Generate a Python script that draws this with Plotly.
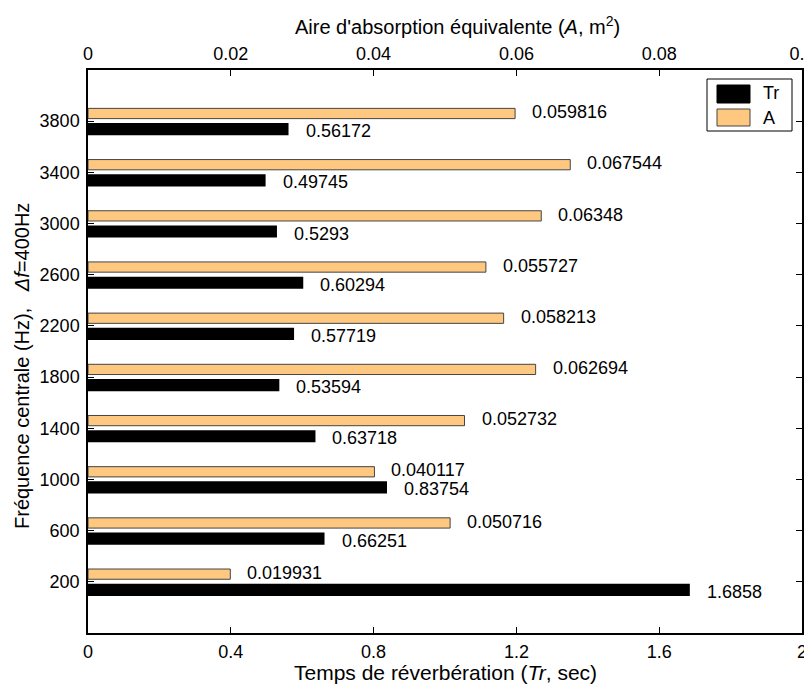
import plotly.graph_objects as go

freqs = [200, 600, 1000, 1400, 1800, 2200, 2600, 3000, 3400, 3800]
tr_values = [1.6858, 0.66251, 0.83754, 0.63718, 0.53594, 0.57719, 0.60294, 0.5293, 0.49745, 0.56172]
a_values = [0.019931, 0.050716, 0.040117, 0.052732, 0.062694, 0.058213, 0.055727, 0.06348, 0.067544, 0.059816]
tr_labels = ["1.6858", "0.66251", "0.83754", "0.63718", "0.53594", "0.57719", "0.60294", "0.5293", "0.49745", "0.56172"]
a_labels = ["0.019931", "0.050716", "0.040117", "0.052732", "0.062694", "0.058213", "0.055727", "0.06348", "0.067544", "0.059816"]
tr_ticks = [0, 0.4, 0.8, 1.2, 1.6, 2]
tr_ticktext = ["0", "0.4", "0.8", "1.2", "1.6", "2"]
a_ticks = [0, 0.02, 0.04, 0.06, 0.08, 0.1]
a_ticktext = ["0", "0.02", "0.04", "0.06", "0.08", "0.1"]
series_names = ["Tr", "A"]
x_title = "Temps de réverbération (<i>Tr</i>, sec)"
x2_title = "Aire d'absorption équivalente (<i>A</i>, m<sup>2</sup>)"
y_title = "Fréquence centrale (Hz),\u00a0\u00a0\u00a0<i>Δf</i>=400Hz"

FONT = "Liberation Sans, Arial, sans-serif"
ORANGE = "#FFC880"
TICK_SIZE = 18
TITLE_SIZE = 20

# the page body adds an 8px margin: the figure is drawn 8px lower/right
PAGE_OFF = 8
W, H = 812 - PAGE_OFF, 691 - PAGE_OFF
# plot frame in page pixels (reference image)
L, R, T, B = 88, 802, 70, 633


def px_x(p):
    return (p - L) / float(R - L)


def px_y(p):
    return (B - p) / float(B - T)


fig = go.Figure()
fig.add_trace(go.Bar(
    y=freqs, x=tr_values, orientation="h", name=series_names[0],
    xaxis="x", yaxis="y", marker=dict(color="black", line=dict(width=0)),
    width=95, offset=-110, showlegend=False,
))
fig.add_trace(go.Bar(
    y=freqs, x=a_values, orientation="h", name=series_names[1],
    xaxis="x2", yaxis="y", marker=dict(color=ORANGE, line=dict(color="#444444", width=1)),
    width=80, offset=20, showlegend=False,
))

annotations = []
for f, v, t in zip(freqs, tr_values, tr_labels):
    annotations.append(dict(x=v, y=f, xref="x", yref="y", text=t, showarrow=False,
                            xanchor="left", yanchor="middle", xshift=15, yshift=-10,
                            font=dict(family=FONT, size=TICK_SIZE, color="black")))
for f, v, t in zip(freqs, a_values, a_labels):
    annotations.append(dict(x=v, y=f, xref="x2", yref="y", text=t, showarrow=False,
                            xanchor="left", yanchor="middle", xshift=15, yshift=9,
                            font=dict(family=FONT, size=TICK_SIZE, color="black")))

# axis titles
annotations.append(dict(x=0.5, y=px_y(672), xref="paper", yref="paper", text=x_title, showarrow=False,
                        xanchor="center", yanchor="middle", font=dict(family=FONT, size=21, color="black")))
annotations.append(dict(x=px_x(457), y=px_y(25), xref="paper", yref="paper", text=x2_title, showarrow=False,
                        xanchor="center", yanchor="middle", font=dict(family=FONT, size=TITLE_SIZE, color="black")))
annotations.append(dict(x=px_x(22), y=px_y(366), xref="paper", yref="paper", text=y_title, showarrow=False,
                        textangle=-90, xanchor="center", yanchor="middle",
                        font=dict(family=FONT, size=TITLE_SIZE, color="black")))

# custom legend
shapes = [
    dict(type="rect", xref="paper", yref="paper", x0=px_x(707), x1=px_x(792), y0=px_y(131), y1=px_y(79),
         line=dict(color="black", width=1), fillcolor="white", layer="above"),
    dict(type="rect", xref="paper", yref="paper", x0=px_x(717), x1=px_x(750), y0=px_y(103), y1=px_y(85),
         line=dict(color="black", width=1), fillcolor="black", layer="above"),
    dict(type="rect", xref="paper", yref="paper", x0=px_x(717), x1=px_x(750), y0=px_y(126), y1=px_y(109),
         line=dict(color="#444444", width=1), fillcolor=ORANGE, layer="above"),
]
annotations.append(dict(x=px_x(761), y=px_y(93), xref="paper", yref="paper", text=series_names[0],
                        showarrow=False, xanchor="left", yanchor="middle",
                        font=dict(family=FONT, size=TICK_SIZE, color="black")))
annotations.append(dict(x=px_x(761), y=px_y(118), xref="paper", yref="paper", text=series_names[1],
                        showarrow=False, xanchor="left", yanchor="middle",
                        font=dict(family=FONT, size=TICK_SIZE, color="black")))

axis_common = dict(showline=True, linecolor="black", linewidth=1.5, showgrid=False, zeroline=False,
                   ticks="inside", ticklen=6, tickcolor="black", tickwidth=1, automargin=False,
                   ticklabeloverflow="allow",
                   tickfont=dict(family=FONT, size=TICK_SIZE, color="black"))

fig.update_layout(
    width=W, height=H,
    margin=dict(l=L - PAGE_OFF, r=812 - R, t=T - PAGE_OFF, b=691 - B),
    paper_bgcolor="white", plot_bgcolor="white",
    barmode="overlay",
    font=dict(family=FONT, size=TICK_SIZE, color="black"),
    xaxis=dict(range=[0, 2], tickvals=tr_ticks, ticktext=tr_ticktext, mirror=False, ticklabelstandoff=2,
               **axis_common),
    xaxis2=dict(range=[0, 0.1], tickvals=a_ticks, ticktext=a_ticktext, overlaying="x", side="top",
                ticklabelstandoff=1, **axis_common),
    yaxis=dict(range=[-200, 4200], tickvals=freqs, ticktext=[str(f) for f in freqs], mirror="ticks",
               ticklabelstandoff=3, **axis_common),
    shapes=shapes,
    annotations=annotations,
)

fig.write_html("out.html")
